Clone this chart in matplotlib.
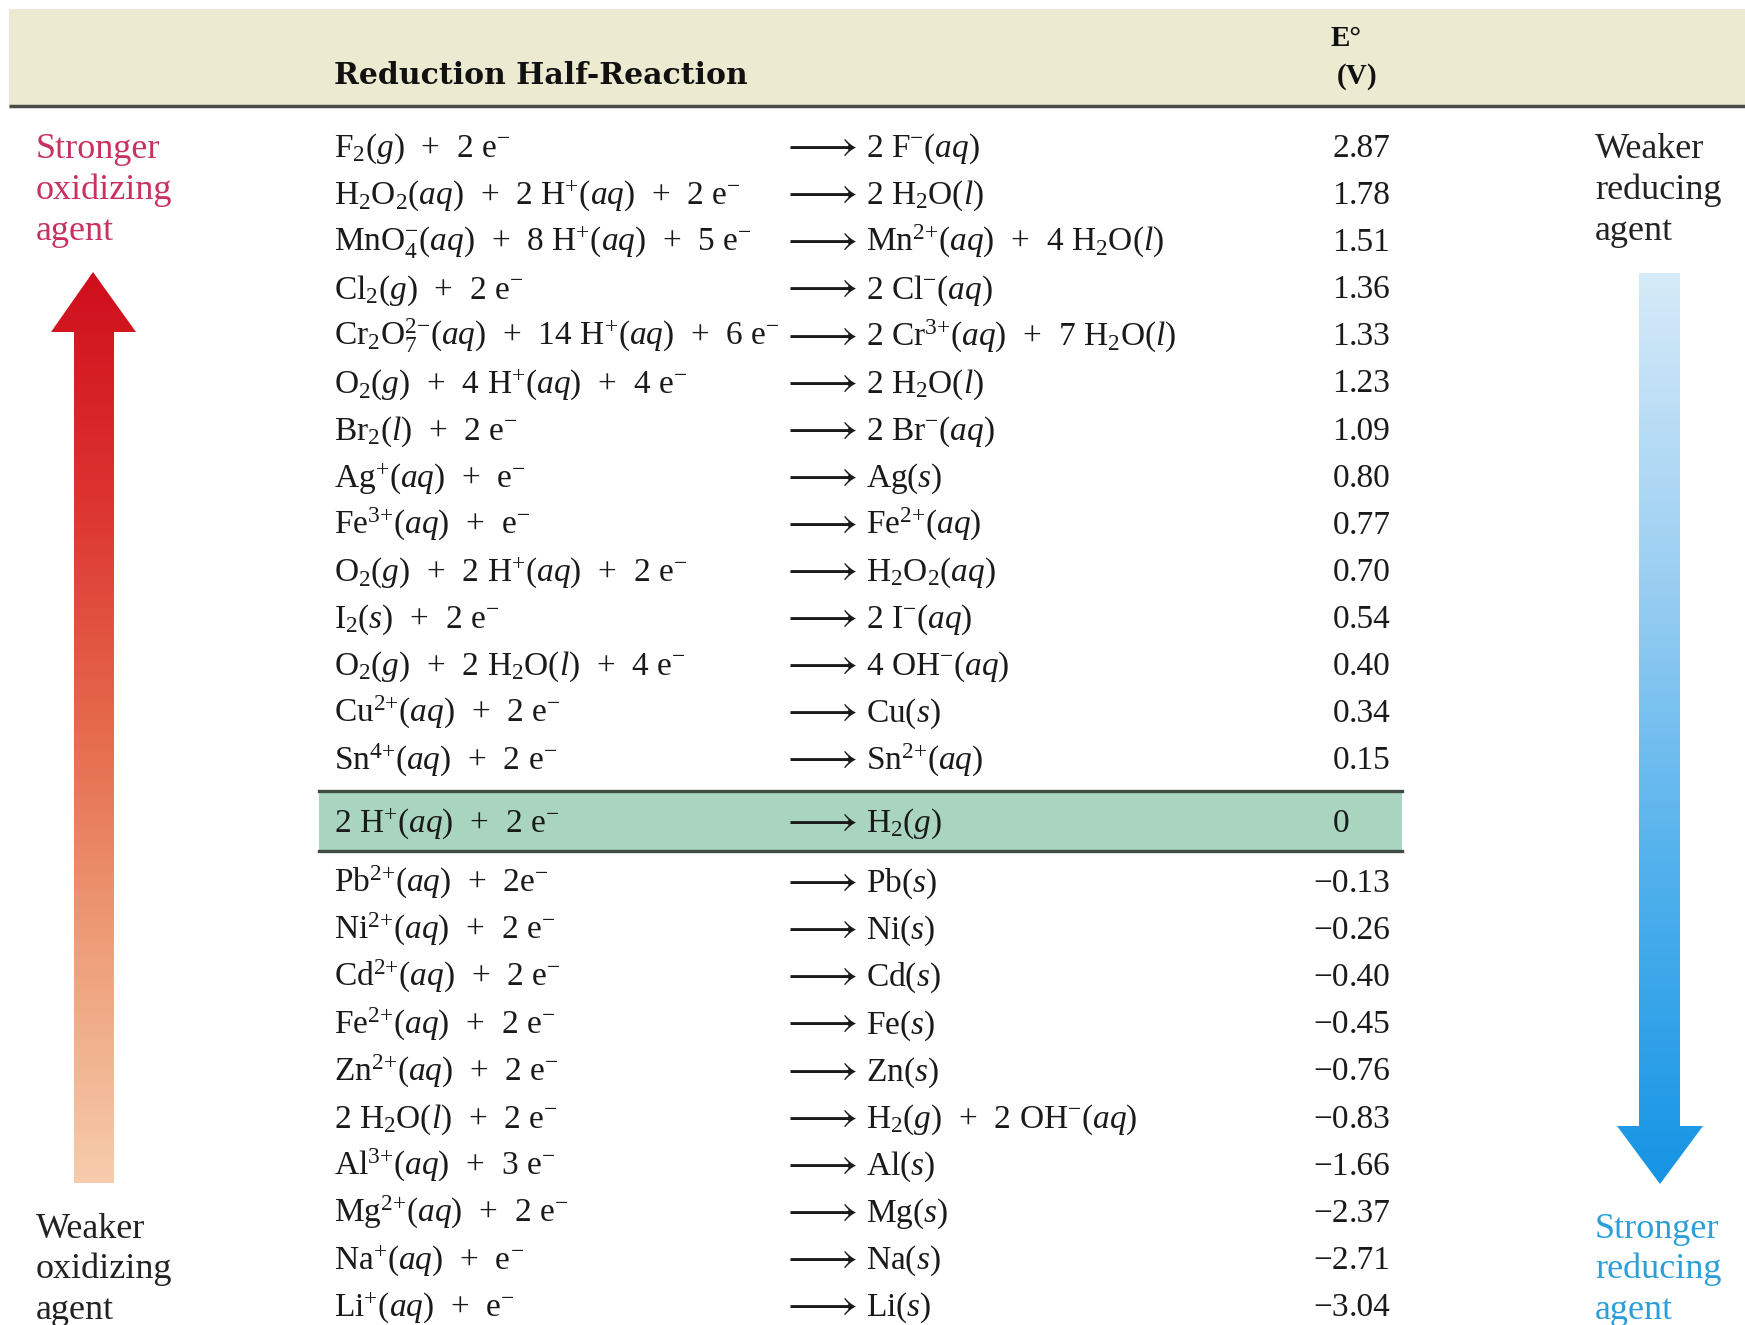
import numpy as np
import matplotlib
matplotlib.use("Agg")
import matplotlib.pyplot as plt
from matplotlib.patches import Rectangle, Polygon
from matplotlib.colors import LinearSegmentedColormap

plt.rcParams['font.family'] = ['Liberation Serif', 'DejaVu Serif']
plt.rcParams['mathtext.fontset'] = 'custom'
plt.rcParams['mathtext.rm'] = 'Liberation Serif'
plt.rcParams['mathtext.it'] = 'Liberation Serif:italic'
plt.rcParams['mathtext.bf'] = 'Liberation Serif:bold'
plt.rcParams['mathtext.fallback'] = 'stix'

P = '\u2002+\u2002'  # widely spaced plus sign used between species

# ---------------- data ----------------
reactants = [
    r'F$_2$($g$)' + P + r'2 e$^{-}$',
    r'H$_2$O$_2$($aq$)' + P + r'2 H$^{+}$($aq$)' + P + r'2 e$^{-}$',
    r'MnO$_4^{-}$($aq$)' + P + r'8 H$^{+}$($aq$)' + P + r'5 e$^{-}$',
    r'Cl$_2$($g$)' + P + r'2 e$^{-}$',
    r'Cr$_2$O$_7^{2{-}}$($aq$)' + P + r'14 H$^{+}$($aq$)' + P + r'6 e$^{-}$',
    r'O$_2$($g$)' + P + r'4 H$^{+}$($aq$)' + P + r'4 e$^{-}$',
    r'Br$_2$($l$)' + P + r'2 e$^{-}$',
    r'Ag$^{+}$($aq$)' + P + r'e$^{-}$',
    r'Fe$^{3{+}}$($aq$)' + P + r'e$^{-}$',
    r'O$_2$($g$)' + P + r'2 H$^{+}$($aq$)' + P + r'2 e$^{-}$',
    r'I$_2$($s$)' + P + r'2 e$^{-}$',
    r'O$_2$($g$)' + P + r'2 H$_2$O($l$)' + P + r'4 e$^{-}$',
    r'Cu$^{2{+}}$($aq$)' + P + r'2 e$^{-}$',
    r'Sn$^{4{+}}$($aq$)' + P + r'2 e$^{-}$',
    r'2 H$^{+}$($aq$)' + P + r'2 e$^{-}$',
    r'Pb$^{2{+}}$($aq$)' + P + r'2e$^{-}$',
    r'Ni$^{2{+}}$($aq$)' + P + r'2 e$^{-}$',
    r'Cd$^{2{+}}$($aq$)' + P + r'2 e$^{-}$',
    r'Fe$^{2{+}}$($aq$)' + P + r'2 e$^{-}$',
    r'Zn$^{2{+}}$($aq$)' + P + r'2 e$^{-}$',
    r'2 H$_2$O($l$)' + P + r'2 e$^{-}$',
    r'Al$^{3{+}}$($aq$)' + P + r'3 e$^{-}$',
    r'Mg$^{2{+}}$($aq$)' + P + r'2 e$^{-}$',
    r'Na$^{+}$($aq$)' + P + r'e$^{-}$',
    r'Li$^{+}$($aq$)' + P + r'e$^{-}$',
]
products = [
    r'2 F$^{-}$($aq$)',
    r'2 H$_2$O($l$)',
    r'Mn$^{2{+}}$($aq$)' + P + r'4 H$_2$O($l$)',
    r'2 Cl$^{-}$($aq$)',
    r'2 Cr$^{3{+}}$($aq$)' + P + r'7 H$_2$O($l$)',
    r'2 H$_2$O($l$)',
    r'2 Br$^{-}$($aq$)',
    r'Ag($s$)',
    r'Fe$^{2{+}}$($aq$)',
    r'H$_2$O$_2$($aq$)',
    r'2 I$^{-}$($aq$)',
    r'4 OH$^{-}$($aq$)',
    r'Cu($s$)',
    r'Sn$^{2{+}}$($aq$)',
    r'H$_2$($g$)',
    r'Pb($s$)',
    r'Ni($s$)',
    r'Cd($s$)',
    r'Fe($s$)',
    r'Zn($s$)',
    r'H$_2$($g$)' + P + r'2 OH$^{-}$($aq$)',
    r'Al($s$)',
    r'Mg($s$)',
    r'Na($s$)',
    r'Li($s$)',
]
e_values = ['2.87', '1.78', '1.51', '1.36', '1.33', '1.23', '1.09', '0.80', '0.77',
            '0.70', '0.54', '0.40', '0.34', '0.15', '0', '\u22120.13', '\u22120.26',
            '\u22120.40', '\u22120.45', '\u22120.76', '\u22120.83', '\u22121.66',
            '\u22122.37', '\u22122.71', '\u22123.04']
reference_index = 14

header_title = 'Reduction Half-Reaction'
header_e = ['E\u00b0', '(V)']
left_top = ['Stronger', 'oxidizing', 'agent']
left_bottom = ['Weaker', 'oxidizing', 'agent']
right_top = ['Weaker', 'reducing', 'agent']
right_bottom = ['Stronger', 'reducing', 'agent']

# ---------------- layout ----------------
W, H = 1745, 1325
fig = plt.figure(figsize=(W / 100, H / 100), dpi=100)
ax = fig.add_axes([0, 0, 1, 1])
ax.axis('off')

FS = 24
SIDE_FS = 26
row_h = 47.1
INK = '#1a1a1a'


def row_y(k):
    if k < reference_index:
        return 146 + row_h * k
    if k == reference_index:
        return 821
    return 881 + row_h * (k - reference_index - 1)


# header band
ax.add_patch(Rectangle((9, 9), W - 9, 97, fc='#ecebd2', ec='none', zorder=0))
ax.plot([9, W], [106, 106], color='#4a4a48', lw=2.5, solid_capstyle='butt', zorder=1)
ax.text(334, 76, header_title, fontsize=21.5, fontweight='bold', ha='left', va='center',
        color='#111111', family='DejaVu Serif')
ax.text(1346, 38, header_e[0], fontsize=21, fontweight='bold', ha='center', va='center',
        color='#111111')
ax.text(1357, 76, header_e[1], fontsize=21, fontweight='bold', ha='center', va='center',
        color='#111111')

# reference (hydrogen) row band
yr = row_y(reference_index)
ax.add_patch(Rectangle((319, yr - 30), 1083, 60, fc='#a9d5c0', ec='none', zorder=0))
ax.plot([319, 1402], [yr - 30, yr - 30], color='#3e4c44', lw=2.4, zorder=1)
ax.plot([319, 1402], [yr + 30, yr + 30], color='#3e4c44', lw=2.4, zorder=1)

x_left, x_arrow, x_right, x_dec = 334, 781, 866, 1349
base_off = 11
for k, (r, p, e) in enumerate(zip(reactants, products, e_values)):
    yb = row_y(k) + base_off
    ax.text(x_left, yb, r, fontsize=FS, ha='left', va='baseline', color=INK)
    ax.text(x_arrow, yb + 1, r'$\longrightarrow$', fontsize=32, ha='left', va='baseline',
            color=INK)
    ax.text(x_right, yb, p, fontsize=FS, ha='left', va='baseline', color=INK)
    if '.' in e:
        ip, fp = e.split('.')
        ax.text(x_dec, yb, ip, fontsize=FS, ha='right', va='baseline', color=INK)
        ax.text(x_dec, yb, '.' + fp, fontsize=FS, ha='left', va='baseline', color=INK)
    else:
        ax.text(x_dec, yb, e, fontsize=FS, ha='right', va='baseline', color=INK)

# side labels
for i, s in enumerate(left_top):
    ax.text(36, 150 + 40.6 * i, s, fontsize=SIDE_FS, ha='left', va='center', color='#c8325f')
for i, s in enumerate(left_bottom):
    ax.text(36, 1229 + 40.6 * i, s, fontsize=SIDE_FS, ha='left', va='center', color='#222222')
for i, s in enumerate(right_top):
    ax.text(1595, 150 + 40.6 * i, s, fontsize=SIDE_FS, ha='left', va='center', color='#222222')
for i, s in enumerate(right_bottom):
    ax.text(1595, 1229 + 40.6 * i, s, fontsize=SIDE_FS, ha='left', va='center', color='#2c9fd8')

# gradient arrows
grad = np.linspace(0, 1, 256)[:, None]
red_cmap = LinearSegmentedColormap.from_list(
    'red', ['#cf0e1c', '#dc3431', '#e56a4b', '#eea07a', '#f6ccac'])
blue_cmap = LinearSegmentedColormap.from_list(
    'blue', ['#d6eaf8', '#9bcff2', '#4fb0ec', '#1594e4'])

up = Polygon([(74, 1183), (114, 1183), (114, 332), (136, 332), (93, 272),
              (51, 332), (74, 332)], closed=True, fc='none', ec='none')
ax.add_patch(up)
im1 = ax.imshow(grad, extent=(50, 137, 1183, 272), aspect='auto', cmap=red_cmap,
                origin='upper', zorder=2)
im1.set_clip_path(up)

down = Polygon([(1639, 273), (1680, 273), (1680, 1126), (1703, 1126), (1660, 1184),
                (1617, 1126), (1639, 1126)], closed=True, fc='none', ec='none')
ax.add_patch(down)
im2 = ax.imshow(grad, extent=(1616, 1704, 1184, 273), aspect='auto', cmap=blue_cmap,
                origin='upper', zorder=2)
im2.set_clip_path(down)

ax.set_xlim(0, W)
ax.set_ylim(H, 0)
fig.savefig('out.png', dpi=100, facecolor='white')
